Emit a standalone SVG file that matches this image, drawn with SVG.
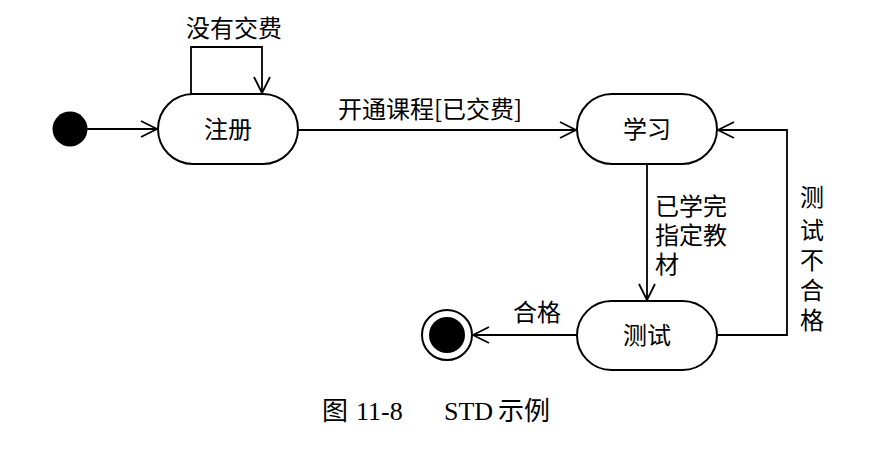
<svg xmlns="http://www.w3.org/2000/svg" width="888" height="461" viewBox="0 0 888 461">
<style>
.node{fill:#fff;stroke:#000;stroke-width:2}
.ln{fill:none;stroke:#000;stroke-width:1.8}
.t{font-family:"Noto Sans CJK SC","Noto Sans",sans-serif;font-size:24px;fill:#000}
.c{text-anchor:middle}
.cap{font-family:"Liberation Serif","Noto Sans CJK SC",serif;font-size:26px;fill:#000}
</style>
<defs>
<marker id="ar" viewBox="0 0 20 20" refX="18" refY="10" markerWidth="20" markerHeight="20" markerUnits="userSpaceOnUse" orient="auto">
<path d="M2,2 L18,10 L2,18" fill="none" stroke="#000" stroke-width="1.8"/>
</marker>
</defs>
<rect width="888" height="461" fill="#fff"/>
<g id="initial"><circle cx="70" cy="129" r="17.5" fill="#000"/></g>
<g id="zhuce"><rect class="node" x="158" y="94" width="140" height="70" rx="35"/><text class="t c" x="228" y="138">注册</text></g>
<g id="xuexi"><rect class="node" x="577" y="94" width="140" height="70" rx="35"/><text class="t c" x="647" y="138">学习</text></g>
<g id="ceshi"><rect class="node" x="577" y="301" width="140" height="69" rx="34.5"/><text class="t c" x="647" y="344">测试</text></g>
<g id="final"><circle cx="447" cy="335" r="25" fill="#fff" stroke="#000" stroke-width="2"/><circle cx="447" cy="335" r="18" fill="#000"/></g>
<g id="connectors">
<path class="ln" d="M87,129 H157" marker-end="url(#ar)"/>
<path class="ln" d="M191,94 V47 H262 V93" marker-end="url(#ar)"/>
<text class="t c" x="234" y="37">没有交费</text>
<path class="ln" d="M298,130 H576" marker-end="url(#ar)"/>
<text class="t" x="338" y="118">开通课程[已交费]</text>
<path class="ln" d="M647,164 V300" marker-end="url(#ar)"/>
<text class="t" x="655" y="215">已学完</text>
<text class="t" x="655" y="244">指定教</text>
<text class="t" x="655" y="273">材</text>
<path class="ln" d="M717,335 H787 V130 H718" marker-end="url(#ar)"/>
<text class="t c" x="812" y="206">测</text>
<text class="t c" x="812" y="239">试</text>
<text class="t c" x="812" y="269">不</text>
<text class="t c" x="812" y="299">合</text>
<text class="t c" x="812" y="329">格</text>
<path class="ln" d="M577,335 H473" marker-end="url(#ar)"/>
<text class="t c" x="537" y="321">合格</text>
</g>
<text class="cap" x="322" y="420">图</text>
<text class="cap" x="356" y="420">11-8</text>
<text class="cap" x="444" y="420">STD</text>
<text class="cap" x="498" y="420">示例</text>
</svg>
